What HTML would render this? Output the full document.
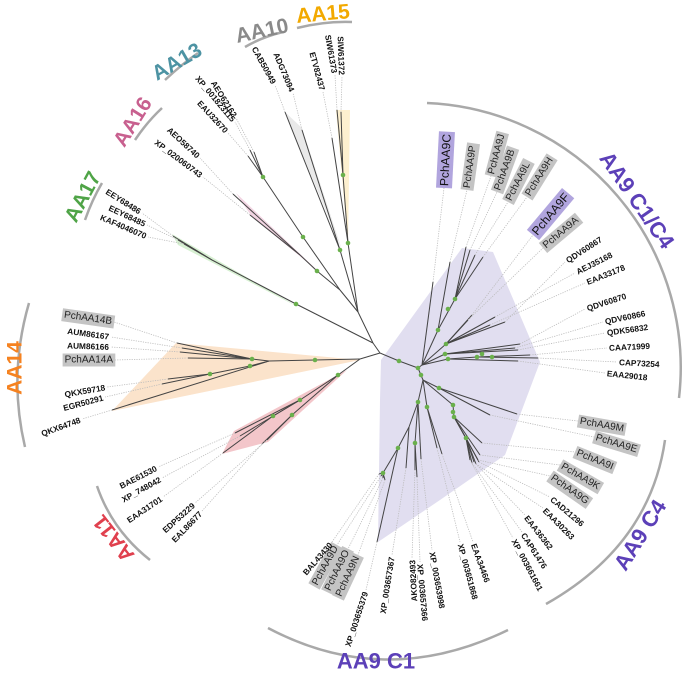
<!DOCTYPE html>
<html><head><meta charset="utf-8">
<style>
html,body{margin:0;padding:0;background:#fff;}
svg{display:block;font-family:"Liberation Sans",sans-serif;}
</style></head>
<body>
<svg id="tree" width="685" height="686" viewBox="0 0 685 686" xmlns="http://www.w3.org/2000/svg">
<g id="shades">
 <polygon points="381,360 462,248 493,252 540,362 505,455 440,500 378,542 380,400" fill="#e1def0"/>
 <polygon points="360,360 176,343 112,411" fill="#fbe3cb"/>
 <polygon points="347,370 268,442 222,454 234,431" fill="#f3c6ca"/>
 <polygon points="318,271 236,193 252,217" fill="#f2d4e2"/>
 <polygon points="300,308 172,234 178,245" fill="#d7f0d2"/>
 <polygon points="342,250 285,112 302,128" fill="#e9e9e9"/>
 <polygon points="348,245 336,110 350,110" fill="#fdf0cf"/>
</g>
<g id="arcs" fill="none" stroke="#a9a9a9" stroke-width="2.5">
 <path d="M245,47 Q262,37 283,32"/>
 <path d="M297,28 Q325,21 352,22"/>
 <path d="M165,80 Q182,64 198,53"/>
 <path d="M135,140 Q147,122 162,108"/>
 <path d="M85,220 Q92,200 102,183"/>
 <path d="M29,303 Q8,375 25,447"/>
 <path d="M97,486 Q112,530 150,560"/>
 <path d="M268,628 Q385,690 508,630"/>
 <path d="M665,440 Q650,545 546,604"/>
 <path d="M427,103 A265,265 0 0 1 679,398"/>
</g>
<g id="branches" stroke="#444" stroke-width="1" fill="none"></g>
<g id="dotted" stroke="#bbb" stroke-width="0.8" stroke-dasharray="1.2,1.2" fill="none"></g>
<g id="dots" fill="#6ab04c"></g>
<g id="labels"></g>
<g id="clades" font-weight="bold" font-size="21" text-anchor="middle" dominant-baseline="central">
 <text transform="translate(262,31) rotate(-12)" fill="#8a8a8a">AA10</text>
 <text transform="translate(323,14) rotate(-5)" fill="#f2a900">AA15</text>
 <text transform="translate(177,62) rotate(-30)" fill="#4d93a3">AA13</text>
 <text transform="translate(133,122) rotate(-58)" fill="#c8608f">AA16</text>
 <text transform="translate(83,197) rotate(-62)" fill="#4fa447">AA17</text>
 <text transform="translate(15,368) rotate(-90)" fill="#f58220">AA14</text>
 <text transform="translate(114,538) rotate(-128)" fill="#e0404e">AA11</text>
 <text transform="translate(376,661)" fill="#5c40b8" font-size="22">AA9 C1</text>
 <text transform="translate(640,535) rotate(-58)" fill="#5c40b8" font-size="22">AA9 C4</text>
 <text transform="translate(637,200) rotate(55)" fill="#5c40b8" font-size="22">AA9 C1/C4</text>
</g>
</svg>
<script>
const NS="http://www.w3.org/2000/svg";
const skeleton=[
[380,353,373,343],[373,343,358,312],[358,312,340,290],[358,312,348,243],[358,312,340,250],
[348,243,343,175],[340,290,317,271],[317,271,300,255],[340,290,303,237],[303,237,263,177],
[373,343,296,304],[296,304,212,260],
[380,353,360,359],[360,359,315,360],[315,360,269,361],[269,361,252,359],[269,361,250,366],[250,366,210,374],
[360,359,338,375],[338,375,300,400],[300,400,273,416],[338,375,292,415],
[380,353,399,361],[399,361,418,368],[418,368,422,365],[418,368,423,380],
[422,365,438,330],[438,330,455,299],[422,365,446,344],[422,365,445,354],[422,365,448,359],[448,359,477,357],
[423,380,439,388],[423,380,453,405],[453,405,454,417],[454,417,466,438],
[423,380,418,402],[418,402,409,427],[409,427,398,448],[398,448,383,473],[418,402,415,443],[423,380,427,407]
];
const leafNames=["CAB50949","ADG73094","ETV82437","SIW61373","SIW61372","XP_001823115","AEO62162","EAU32670","AEO58740","XP_020060743","EEY68486","EEY68485","KAF4046070","PchAA14B","AUM86167","AUM86166","PchAA14A","QKX59718","EGR50291","QKX64748","BAE61530","XP_748042","EAA31701","EDP53229","EAL86677","PchAA9C","PchAA9P","PchAA9J","PchAA9B","PchAA9L","PchAA9H","PchAA9F","PchAA9A","QDV60867","AEJ35168","EAA33178","QDV60870","QDV60866","QDK56832","CAA71999","CAP73254","EAA29018","PchAA9M","PchAA9E","PchAA9I","PchAA9K","PchAA9G","CAD21296","EAA30263","EAA36362","CAP61476","XP_003661661","EAA34466","XP_003651868","XP_003653998","XP_003657366","AKO82493","XP_003657367","XP_003655379","PchAA9N","PchAA9O","PchAA9D","BAL43430"];
const leafParents=[[340,250],[340,250],[348,243],[343,175],[343,175],[263,177],[263,177],[263,177],[300,255],[300,255],[212,260],[212,260],[212,260],[252,359],[252,359],[252,359],[252,359],[210,374],[210,374],[269,361],[300,400],[300,400],[273,416],[292,415],[292,415],[422,365],[438,330],[455,299],[455,299],[455,299],[455,299],[446,344],[446,344],[446,344],[446,344],[446,344],[445,354],[445,354],[445,354],[477,357],[477,357],[448,359],[439,388],[439,388],[454,417],[454,417],[454,417],[466,438],[466,438],[466,438],[466,438],[466,438],[427,407],[427,407],[418,402],[415,443],[415,443],[409,427],[398,448],[383,473],[383,473],[383,473],[383,473]];
const leafTips=[[285,112],[302,130],[332,138],[337,110],[341,112],[250,150],[254,152],[248,156],[233,194],[250,215],[173,236],[178,240],[184,244],[177,343],[182,348],[180,352],[188,358],[168,379],[162,384],[112,410],[235,433],[240,436],[223,453],[267,440],[262,444],[433,282],[450,262],[466,247],[470,250],[475,255],[483,257],[472,315],[468,320],[505,322],[495,317],[490,325],[520,344],[515,348],[518,350],[530,355],[538,358],[518,361],[517,414],[490,415],[482,443],[480,455],[478,460],[479,462],[476,464],[474,462],[472,463],[470,460],[442,454],[437,448],[421,459],[417,477],[415,470],[406,468],[377,542],[385,480],[383,478],[381,476],[379,474]];
const labelPos=[[275,85],[293,93],[323,92],[335,75],[342,77],[235,122],[236,118],[228,133],[200,158],[203,177],[142,213],[147,225],[148,237],[114,322],[111,337],[111,347],[115,360],[107,387],[105,397],[82,419],[158,467],[162,478],[163,497],[195,503],[202,511],[444,188],[467,190],[491,176],[497,192],[508,202],[527,197],[533,235],[543,248],[565,262],[575,273],[585,283],[585,309],[603,322],[605,333],[607,348],[617,362],[605,373],[578,421],[594,437],[575,452],[560,465],[550,476],[550,497],[543,508],[525,515],[522,532],[513,538],[473,542],[460,542],[432,550],[420,562],[412,558],[392,555],[366,590],[358,555],[348,549],[337,545],[332,542]];
const labelRot=[61,67,75,80,88,50,58,47,43,37,32,25,23,8,8,2,0,-10,-15,-20,-27,-29,-34,-42,-46,-87,-82,-75,-70,-63,-58,-50,-40,-33,-27,-22,-18,-12,-8,-3,3,6,10,17,22,30,35,40,45,52,57,62,70,75,80,85,-93,-81,-72,-65,-64,-61,-49];
const labelBox=[0,0,0,0,0,0,0,0,0,0,0,0,0,1,0,0,1,0,0,0,0,0,0,0,0,2,1,1,1,1,1,2,1,0,0,0,0,0,0,0,0,0,1,1,1,1,1,0,0,0,0,0,0,0,0,0,0,0,0,1,1,1,0];
const dotPts=[[296,304],[317,271],[303,237],[263,177],[348,243],[343,175],[340,250],[315,360],[252,359],[250,366],[210,374],[338,375],[300,400],[292,415],[273,416],[399,361],[418,368],[421,375],[438,330],[455,299],[448,309],[446,344],[445,354],[448,359],[477,357],[482,354],[492,357],[439,388],[453,405],[453,412],[454,417],[466,438],[418,402],[427,407],[415,443],[398,448],[383,473]];

const br=document.getElementById('branches'),dl=document.getElementById('dotted'),dg=document.getElementById('dots'),lg=document.getElementById('labels');
function line(g,a,b,c,d){const l=document.createElementNS(NS,'line');l.setAttribute('x1',a);l.setAttribute('y1',b);l.setAttribute('x2',c);l.setAttribute('y2',d);g.appendChild(l);return l;}
skeleton.forEach(s=>{
 const l=line(br,s[0],s[1],s[2],s[3]);
 
 
});
leafNames.forEach((nm,i)=>{
 const p=leafParents[i],t=leafTips[i],L=labelPos[i],r=labelRot[i],bx=labelBox[i];
 const b=line(br,p[0],p[1],t[0],t[1]);
 
 
 const d=line(dl,t[0],t[1],L[0],L[1]);
 
 
 const g=document.createElementNS(NS,'g');
 g.setAttribute('transform','translate('+L[0]+','+L[1]+') rotate('+r+')');
 
 
 const dx=L[0]-t[0],dy=L[1]-t[1];
 const rad=r*Math.PI/180;
 const outward=(dx*Math.cos(rad)+dy*Math.sin(rad))>0;
 const tx=document.createElementNS(NS,'text');
 tx.textContent=nm;
 
 
 tx.setAttribute('dominant-baseline','central');
 tx.setAttribute('text-anchor',outward?'start':'end');
 tx.setAttribute('x',outward?2:-2);
 if(bx===0){tx.setAttribute('font-size','8.3');tx.setAttribute('font-weight','bold');tx.setAttribute('fill','#111');}
 else if(bx===1){tx.setAttribute('font-size','10');tx.setAttribute('fill','#222');}
 else {tx.setAttribute('font-size','12');tx.setAttribute('fill','#111');}
 g.appendChild(tx);
 lg.appendChild(g);
 if(bx){
  const bb=tx.getBBox();
  const rc=document.createElementNS(NS,'rect');
  
  
  rc.setAttribute('x',bb.x-2);rc.setAttribute('y',bb.y-1);
  rc.setAttribute('width',bb.width+4);rc.setAttribute('height',bb.height+2);
  rc.setAttribute('fill',bx===1?'#c4c4c4':'#b1a5de');
  g.insertBefore(rc,tx);
 }
});
dotPts.forEach(p=>{
 const c=document.createElementNS(NS,'circle');
 c.setAttribute('cx',p[0]);c.setAttribute('cy',p[1]);c.setAttribute('r',2.3);
 
 
 dg.appendChild(c);
});
</script>
</body></html>
